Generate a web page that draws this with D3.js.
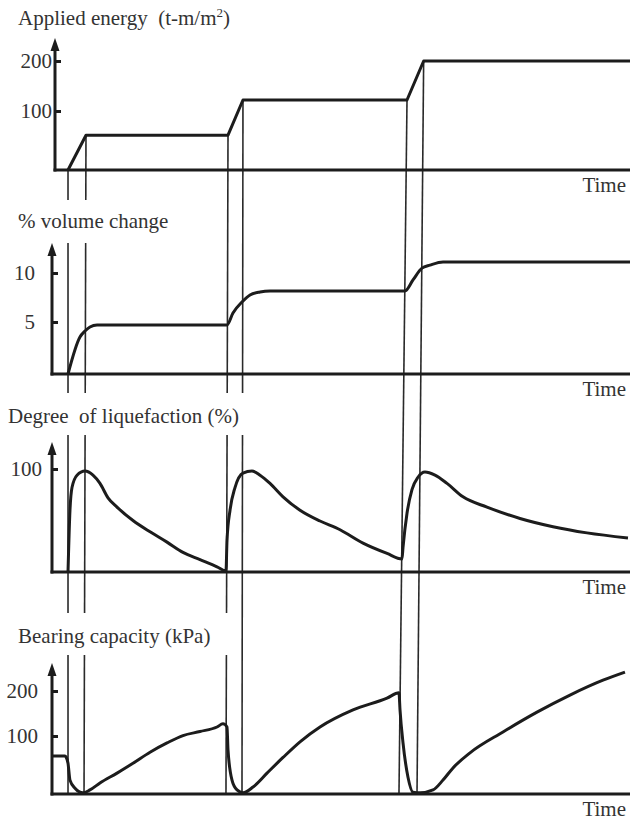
<!DOCTYPE html>
<html>
<head>
<meta charset="utf-8">
<script src="https://cdn.jsdelivr.net/npm/d3@7"></script>
<style>
  html, body { margin: 0; padding: 0; background: #fff; }
  svg { display: block; }
  svg text { font-family: "Liberation Serif" !important; }
</style>
</head>
<body>
<svg id="chart" width="630" height="823"></svg>
<script>
// ---------------- DATA (time in arbitrary units 0..100) ----------------
const energyTime   = [2.77, 5.88, 30.45, 33.04, 61.42, 64.3, 100];
const energyValues = [0, 59, 59, 122, 122, 200, 200];
const energyTicks  = [100, 200];

const volumeTime   = [2.77, 4.84, 5.71, 6.57, 7.79, 30.28, 31.31, 32.87, 34.26, 35.99, 37.72, 61.07, 62.46, 64.01, 65.40, 67.65, 100];
const volumeValues = [0, 3.56, 4.13, 4.52, 4.71, 4.71, 5.92, 7.04, 7.76, 8.06, 8.16, 8.16, 9.29, 10.5, 10.8, 11.12, 11.12];
const volumeTicks  = [5, 10];

const liqTime   = [2.77, 3.11, 3.46, 4.33, 5.71, 7.09, 8.30, 9.69, 11.25, 14.01, 16.96, 19.90, 22.66, 25.61, 28.55, 30.10,
                   30.28, 30.80, 31.66, 33.04, 34.60, 35.99, 37.72, 39.97, 42.91, 46.37, 49.83, 53.81, 57.96, 60.55,
                   60.73, 61.42, 62.28, 63.32, 64.53, 66.26, 68.34, 71.11, 75.26, 80.97, 86.68, 92.56, 99.65];
const liqValues = [0, 60, 82, 94, 98, 94, 86, 72, 63, 50, 39, 29, 19, 12, 5, 1,
                   31, 60, 82, 96, 98, 94, 86, 73, 60, 49.5, 41, 28, 18, 12.6,
                   24, 57, 80, 92, 97, 94, 86, 73, 63, 52, 44, 38, 33];
const liqTicks  = [100];

const bearTime   = [0, 2.25, 2.42, 2.77, 3.11, 3.98, 5.36, 6.57, 8.30, 11.25, 14.01, 16.96, 19.90, 22.66, 25.61, 28.55, 29.58,
                    30.28, 30.45, 31.14, 32.01, 33.04, 34.78, 37.20, 39.97, 42.91, 46.37, 52.08, 57.96, 60.03,
                    60.21, 60.73, 61.59, 62.46, 63.67, 65.92, 67.65, 69.38, 72.32, 78.03, 83.91, 89.62, 95.33, 99.13];
const bearValues = [65.5, 65.5, 64, 53, 24, 10, 2, 7, 19, 36, 53, 72, 88, 101, 110, 120, 127,
                    120, 76, 24, 7, 2, 12, 36, 63, 90, 120, 158, 184, 196,
                    158, 88, 29, 3, 2, 7, 24, 45, 71, 109, 153, 191, 224, 242];
const bearTicks  = [100, 200];

// vertical guide lines: time where they start (top panel) and end (bottom panel)
const markerTop    = [2.77, 5.88, 30.45, 33.04, 61.42, 64.3];
const markerBottom = [2.77, 5.54, 30.10, 32.87, 60.03, 63.15];

const timeLabel = "Time";

// ---------------- LAYOUT ----------------
const FONT = "Liberation Serif";
const svg = d3.select("#chart");
const x = d3.scaleLinear().domain([0, 100]).range([52, 630]);
const ink = "#1c1c1c";
const txt = "#333";

const panels = [
  { title: ["Applied energy  (t-m/m", "2", ")"], titleX: 18, titleY: 25,
    axisX: 55, tipY: 38, domain: [0, 100, 200], range: [170, 111, 61], ticks: energyTicks, pad: 3,
    t: energyTime, v: energyValues, curve: d3.curveLinear },
  { title: ["% volume change"], titleX: 18, titleY: 228,
    axisX: 52, tipY: 243, domain: [0, 5, 10], range: [374, 322, 273], ticks: volumeTicks, pad: 17,
    t: volumeTime, v: volumeValues, curve: d3.curveMonotoneX },
  { title: ["Degree  of liquefaction (%)"], titleX: 8, titleY: 423,
    axisX: 52, tipY: 442, domain: [0, 100], range: [572, 469], ticks: liqTicks, pad: 10,
    t: liqTime, v: liqValues, curve: d3.curveMonotoneX },
  { title: ["Bearing capacity (kPa)"], titleX: 18, titleY: 643,
    axisX: 52, tipY: 663, domain: [0, 100, 200], range: [794, 736, 691], ticks: bearTicks, pad: 14,
    t: bearTime, v: bearValues, curve: d3.curveMonotoneX }
];
panels.forEach(p => { p.y = d3.scaleLinear().domain(p.domain).range(p.range); });

// gaps in the guide lines where titles sit
const gaps = [ { y0: 200, y1: 243, maxX: 200 }, { y0: 393, y1: 435, maxX: 250 }, { y0: 613, y1: 655, maxX: 235 } ];

// ---------------- GUIDE LINES ----------------
const interp = (ts, vs, t) => {
  for (let i = 0; i < ts.length - 1; i++) {
    if (t >= ts[i] && t <= ts[i + 1]) {
      const f = (t - ts[i]) / (ts[i + 1] - ts[i] || 1);
      return vs[i] + f * (vs[i + 1] - vs[i]);
    }
  }
  return vs[vs.length - 1];
};
const guideG = svg.append("g");
markerTop.forEach((tTop, i) => {
  const x0 = x(tTop), y0 = panels[0].y(interp(energyTime, energyValues, tTop));
  const x1 = x(markerBottom[i]), y1 = panels[3].y(0);
  const xAt = yy => x0 + (x1 - x0) * (yy - y0) / (y1 - y0);
  let segs = [[y0, y1]];
  gaps.forEach(g => {
    if (xAt((g.y0 + g.y1) / 2) < g.maxX) {
      const out = [];
      segs.forEach(([a, b]) => {
        if (b <= g.y0 || a >= g.y1) { out.push([a, b]); return; }
        if (a < g.y0) out.push([a, g.y0]);
        if (b > g.y1) out.push([g.y1, b]);
      });
      segs = out;
    }
  });
  segs.forEach(([a, b]) => {
    guideG.append("line")
      .attr("x1", xAt(a)).attr("y1", a).attr("x2", xAt(b)).attr("y2", b)
      .attr("stroke", "#2a2a2a").attr("stroke-width", 1.6);
  });
});

// ---------------- PANELS ----------------
panels.forEach(p => {
  const g = svg.append("g");
  const base = p.y(0);

  // title
  const tt = g.append("text").attr("x", p.titleX).attr("y", p.titleY)
    .attr("font-size", 21).attr("fill", txt).style("white-space", "pre").style("font-family", FONT);
  tt.append("tspan").text(p.title[0]);
  if (p.title.length > 1) {
    tt.append("tspan").text(p.title[1]).attr("font-size", 13).attr("dy", -8);
    tt.append("tspan").text(p.title[2]).attr("dy", 8);
  }

  // y axis with ticks to the right, labels to the left
  const ax = d3.axisLeft(p.y).tickValues(p.ticks).tickSizeInner(-6).tickSizeOuter(0).tickPadding(p.pad);
  const axG = g.append("g").attr("transform", `translate(${p.axisX},0)`).call(ax)
    .attr("font-family", null).attr("font-size", 21);
  axG.select(".domain").remove();
  axG.selectAll(".tick line").attr("stroke", ink).attr("stroke-width", 3);
  axG.selectAll(".tick text").style("font-family", FONT).attr("fill", txt);

  // vertical axis line + arrowhead
  g.append("line").attr("x1", p.axisX).attr("x2", p.axisX).attr("y1", base + 1.5).attr("y2", p.tipY + 8)
    .attr("stroke", ink).attr("stroke-width", 3);
  g.append("path")
    .attr("d", `M${p.axisX},${p.tipY} L${p.axisX - 4.5},${p.tipY + 13} L${p.axisX + 4.5},${p.tipY + 13} Z`)
    .attr("fill", ink);

  // horizontal time axis
  g.append("line").attr("x1", p.axisX - 1.5).attr("x2", 630).attr("y1", base).attr("y2", base)
    .attr("stroke", ink).attr("stroke-width", 3);
  g.append("text").attr("x", 626).attr("y", base + 22).attr("text-anchor", "end")
    .attr("font-size", 21).style("font-family", FONT).attr("fill", txt).text(timeLabel);

  // data curve
  const data = p.t.map((t, i) => [t, p.v[i]]);
  g.append("path").datum(data)
    .attr("d", d3.line().x(d => x(d[0])).y(d => p.y(d[1])).curve(p.curve))
    .attr("fill", "none").attr("stroke", ink).attr("stroke-width", 3)
    .attr("stroke-linejoin", "round");
});
</script>
</body>
</html>
